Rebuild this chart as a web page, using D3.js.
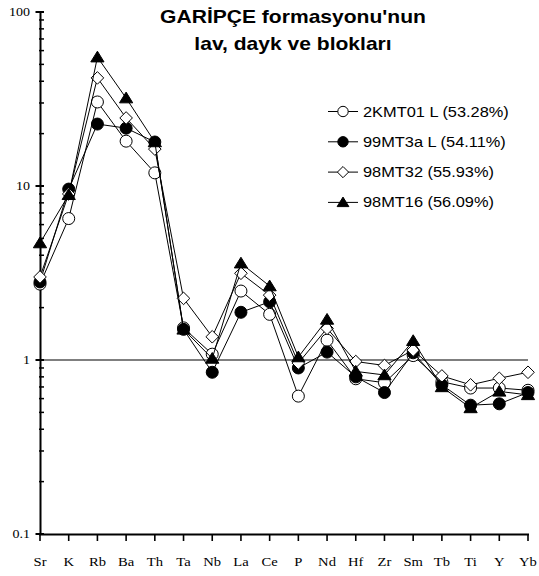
<!DOCTYPE html>
<html>
<head>
<meta charset="utf-8">
<script src="https://cdn.jsdelivr.net/npm/d3@7"></script>
<style>
    body { margin: 0; background: #fff; }
    svg { display: block; }
</style>
</head>
<body>
<div id="chart"></div>
<script>
const elements = ['Sr', 'K', 'Rb', 'Ba', 'Th', 'Ta', 'Nb', 'La', 'Ce', 'P', 'Nd', 'Hf', 'Zr', 'Sm', 'Tb', 'Ti', 'Y', 'Yb'];
const s2KMT01 = [2.73, 6.5, 30.4, 18.1, 11.9, 1.53, 1.08, 2.49, 1.83, 0.62, 1.30, 0.78, 0.74, 1.06, 0.75, 0.69, 0.69, 0.67];
const s99MT3a = [2.81, 9.6, 22.7, 21.5, 17.9, 1.5, 0.85, 1.88, 2.16, 0.90, 1.11, 0.80, 0.65, 1.10, 0.72, 0.55, 0.56, 0.65];
const s98MT32 = [3.0, 9.0, 41.8, 24.6, 16.3, 2.26, 1.36, 3.15, 2.36, 0.96, 1.52, 0.98, 0.93, 1.14, 0.81, 0.72, 0.785, 0.85];
const s98MT16 = [4.7, 8.9, 55, 32, 17.9, 1.50, 1.02, 3.6, 2.66, 1.04, 1.71, 0.86, 0.82, 1.29, 0.70, 0.53, 0.66, 0.63];
const seriesNames = ['2KMT01 L (53.28%)', '99MT3a L (54.11%)', '98MT32 (55.93%)', '98MT16 (56.09%)'];
const yTicks = [0.1, 1, 10, 100];
const titleLines = ["GARİPÇE formasyonu'nun", 'lav, dayk ve blokları'];

const fullWidth = 539;
const fullHeight = 576;
const stretch = 1.17; // text in the original is drawn a little wide

const series = [
    { name: seriesNames[0], values: s2KMT01, shape: 'circle', fill: '#fff' },
    { name: seriesNames[1], values: s99MT3a, shape: 'circle', fill: '#000' },
    { name: seriesNames[2], values: s98MT32, shape: 'diamond', fill: '#fff' },
    { name: seriesNames[3], values: s98MT16, shape: 'triangle', fill: '#000' }
];

const svg = d3.select('#chart')
    .append('svg')
    .attr('width', fullWidth)
    .attr('height', fullHeight)
    .attr('viewBox', [0, 0, fullWidth, fullHeight]);

const x = d3.scalePoint()
    .domain(elements)
    .range([40, 528]);
const y = d3.scaleLog()
    .domain([0.1, 100])
    .range([534, 12]);

// marker paths
function markerPath(shape, s) {
    if (shape === 'circle') {
        return d3.symbol(d3.symbolCircle, Math.PI * s * s)();
    }
    if (shape === 'diamond') {
        return `M0,${-s}L${s},0L0,${s}L${-s},0Z`;
    }
    return `M0,${-s * 0.95}L${s * 1.05},${s * 0.75}L${-s * 1.05},${s * 0.75}Z`;
}

// reference line at 1
svg.append('line')
    .attr('x1', x.range()[0])
    .attr('x2', x.range()[1])
    .attr('y1', y(1))
    .attr('y2', y(1))
    .attr('stroke', '#000')
    .attr('stroke-width', 1.2);

// y axis
const yAxis = svg.append('g');
yAxis.append('line')
    .attr('x1', 40.5).attr('x2', 40.5)
    .attr('y1', y(100)).attr('y2', y(0.1))
    .attr('stroke', '#000').attr('stroke-width', 2);
const minor = [];
for (const dec of [0.1, 1, 10]) {
    for (let k = 2; k <= 9; k++) minor.push(dec * k);
}
yAxis.selectAll('.minor')
    .data(minor)
    .enter()
    .append('line')
    .attr('x1', 39).attr('x2', 44)
    .attr('y1', d => y(d)).attr('y2', d => y(d))
    .attr('stroke', '#000').attr('stroke-width', 1.5);
yAxis.selectAll('.major')
    .data(yTicks)
    .enter()
    .append('line')
    .attr('x1', 35.5).attr('x2', 44)
    .attr('y1', d => y(d)).attr('y2', d => y(d))
    .attr('stroke', '#000').attr('stroke-width', 2);
yAxis.selectAll('text')
    .data(yTicks)
    .enter()
    .append('text')
    .attr('transform', d => `translate(30, ${y(d) + 4}) scale(${stretch}, 1)`)
    .attr('text-anchor', 'end')
    .style('font-family', '"Liberation Serif", "Times New Roman", serif')
    .style('font-size', '12px')
    .text(d => d);

// x axis
const xAxis = svg.append('g');
xAxis.append('line')
    .attr('x1', x.range()[0] - 1).attr('x2', x.range()[1] + 1)
    .attr('y1', 534.5).attr('y2', 534.5)
    .attr('stroke', '#000').attr('stroke-width', 2);
xAxis.selectAll('.tick')
    .data(elements)
    .enter()
    .append('line')
    .attr('x1', d => x(d)).attr('x2', d => x(d))
    .attr('y1', 534).attr('y2', 541)
    .attr('stroke', '#000').attr('stroke-width', 1.6);
xAxis.selectAll('text')
    .data(elements)
    .enter()
    .append('text')
    .attr('transform', d => `translate(${x(d)}, 566) scale(${stretch}, 1)`)
    .attr('text-anchor', 'middle')
    .style('font-family', '"Liberation Serif", "Times New Roman", serif')
    .style('font-size', '12.5px')
    .text(d => d);

// series lines + markers, drawn in order so later ones sit on top
const line = d3.line()
    .x((d, i) => x(elements[i]))
    .y(d => y(d));

for (const s of series) {
    const g = svg.append('g');
    g.append('path')
        .attr('d', line(s.values))
        .attr('fill', 'none')
        .attr('stroke', '#000')
        .attr('stroke-width', 1);
    g.selectAll('path.mark')
        .data(s.values)
        .enter()
        .append('path')
        .attr('class', 'mark')
        .attr('transform', (d, i) => `translate(${x(elements[i])}, ${y(d)})`)
        .attr('d', markerPath(s.shape, s.shape === 'circle' ? 6 : 6.3))
        .attr('fill', s.fill)
        .attr('stroke', '#000')
        .attr('stroke-width', 1);
}

// title
svg.selectAll('.title')
    .data(titleLines)
    .enter()
    .append('text')
    .attr('class', 'title')
    .attr('transform', (d, i) => `translate(293, ${23 + i * 26.5}) scale(${stretch}, 1)`)
    .attr('text-anchor', 'middle')
    .style('font-family', '"Liberation Sans", Arial, sans-serif')
    .style('font-weight', 'bold')
    .style('font-size', '18px')
    .text(d => d);

// legend
const legend = svg.selectAll('.legend')
    .data(series)
    .enter()
    .append('g')
    .attr('class', 'legend')
    .attr('transform', (d, i) => `translate(0, ${111.5 + i * 30.3})`);
legend.append('line')
    .attr('x1', 328).attr('x2', 358)
    .attr('y1', 0).attr('y2', 0)
    .attr('stroke', '#000').attr('stroke-width', 1);
legend.append('path')
    .attr('transform', 'translate(343, 0)')
    .attr('d', d => markerPath(d.shape, d.shape === 'circle' ? 5.2 : 5.6))
    .attr('fill', d => d.fill)
    .attr('stroke', '#000')
    .attr('stroke-width', 1);
legend.append('text')
    .attr('transform', `translate(363, 5) scale(${stretch}, 1)`)
    .style('font-family', '"Liberation Sans", Arial, sans-serif')
    .style('font-size', '14px')
    .text(d => d.name);
</script>
</body>
</html>
